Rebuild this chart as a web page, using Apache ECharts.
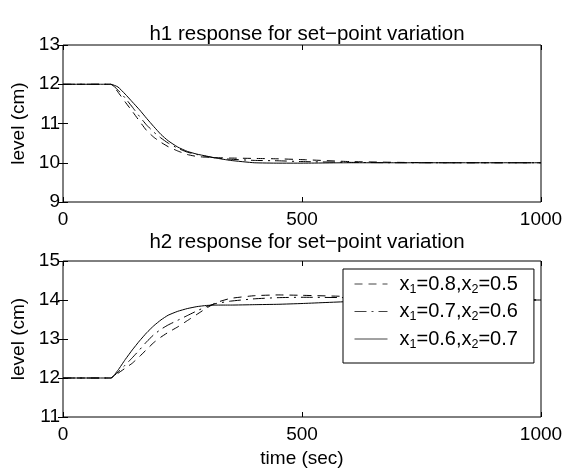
<!DOCTYPE html>
<html><head><meta charset="utf-8">
<script src="https://cdn.jsdelivr.net/npm/echarts@6/dist/echarts.min.js"></script>
<style>html,body{margin:0;padding:0;background:#fff}#c{width:567px;height:469px}</style>
</head><body><div id="c"></div>
<script>
// time grid (sec)
const time = [0, 100, 115, 130, 145, 160, 175, 190, 205, 220, 240, 260, 280, 300, 320, 350, 400, 450, 500, 600, 700, 800, 900, 1000];
// h1 response (cm)
const h1A = [12, 12, 11.80, 11.55, 11.31, 11.06, 10.82, 10.65, 10.52, 10.41, 10.30, 10.21, 10.16, 10.14, 10.13, 10.12, 10.11, 10.10, 10.08, 10.03, 10.01, 10.00, 10.00, 10.00];
const h1B = [12, 12, 11.85, 11.65, 11.42, 11.18, 10.96, 10.78, 10.63, 10.50, 10.37, 10.27, 10.21, 10.16, 10.12, 10.09, 10.06, 10.05, 10.03, 10.01, 10.00, 10.00, 10.00, 10.00];
const h1C = [12, 12, 11.93, 11.75, 11.55, 11.35, 11.13, 10.92, 10.72, 10.56, 10.40, 10.29, 10.22, 10.17, 10.12, 10.06, 10.00, 9.99, 9.99, 10.00, 10.00, 10.00, 10.00, 10.00];
// h2 response (cm)
const h2A = [12, 12, 12.12, 12.25, 12.38, 12.55, 12.73, 12.91, 13.05, 13.17, 13.31, 13.47, 13.63, 13.79, 13.93, 14.04, 14.11, 14.13, 14.12, 14.09, 14.06, 14.03, 14.01, 14.00];
const h2B = [12, 12, 12.15, 12.33, 12.52, 12.72, 12.93, 13.11, 13.25, 13.36, 13.48, 13.60, 13.72, 13.83, 13.91, 13.97, 14.03, 14.06, 14.07, 14.06, 14.04, 14.02, 14.01, 14.00];
const h2C = [12, 12, 12.20, 12.47, 12.72, 12.95, 13.16, 13.34, 13.49, 13.61, 13.71, 13.78, 13.83, 13.86, 13.87, 13.87, 13.88, 13.89, 13.91, 13.96, 13.98, 13.99, 14.00, 14.00];
const seriesNames = ['x1=0.8,x2=0.5', 'x1=0.7,x2=0.6', 'x1=0.6,x2=0.7'];
const xTicks = [0, 500, 1000];
const titles = ['h1 response for set\u2212point variation', 'h2 response for set\u2212point variation'];

const FONT = 'Liberation Sans, Arial, Helvetica, sans-serif';
const FS = 19;
const dashStyles = [[8, 6], [12, 5, 2, 5], 'solid'];
const pairs = arr => time.map((t, i) => [t, arr[i]]);

function xAx(grid, pos, labels) {
  return {
    type: 'value', gridIndex: grid, position: pos, min: xTicks[0], max: xTicks[2], interval: 500,
    axisLine: {show: false},
    axisTick: {show: true, inside: true, length: 5, lineStyle: {color: '#000'}},
    axisLabel: {show: labels, color: '#000', fontSize: FS, fontFamily: FONT, margin: 8, formatter: v => String(v)},
    splitLine: {show: false},
    name: (labels && grid === 1) ? 'time (sec)' : '',
    nameLocation: 'middle', nameGap: 32,
    nameTextStyle: {color: '#000', fontSize: FS, fontFamily: FONT}
  };
}
function yAx(grid, pos, labels, min, max) {
  return {
    type: 'value', gridIndex: grid, position: pos, min: min, max: max, interval: 1,
    axisLine: {show: false},
    axisTick: {show: true, inside: true, length: 5, lineStyle: {color: '#000'}},
    axisLabel: {show: labels, color: '#000', fontSize: FS, fontFamily: FONT, margin: 3},
    splitLine: {show: false},
    name: labels ? 'level (cm)' : '',
    nameLocation: 'middle', nameGap: 35,
    nameTextStyle: {color: '#000', fontSize: FS, fontFamily: FONT}
  };
}

const topData = [h1A, h1B, h1C];
const botData = [h2A, h2B, h2C];
const series = [];
[topData, botData].forEach((set, g) => {
  set.forEach((arr, k) => {
    series.push({
      type: 'line', name: seriesNames[k], xAxisIndex: g * 2, yAxisIndex: g * 2,
      data: pairs(arr), symbol: 'none', smooth: 0.15, silent: true,
      lineStyle: {color: '#000', width: 1, type: dashStyles[k]},
      itemStyle: {color: '#000'}
    });
  });
});

const chart = echarts.init(document.getElementById('c'), null, {renderer: 'canvas'});
chart.setOption({
  backgroundColor: '#fff',
  animation: false,
  title: titles.map((t, i) => ({
    text: t, left: 302, top: i === 0 ? 19 : 227, textAlign: 'center',
    textStyle: {color: '#000', fontSize: 20.5, fontWeight: 'normal', fontFamily: FONT}
  })),
  grid: [
    {left: 63, top: 45, width: 478, height: 157, show: true, borderColor: '#000', borderWidth: 1, backgroundColor: 'transparent'},
    {left: 63, top: 261, width: 478, height: 157, show: true, borderColor: '#000', borderWidth: 1, backgroundColor: 'transparent'}
  ],
  xAxis: [xAx(0, 'bottom', true), xAx(0, 'top', false), xAx(1, 'bottom', true), xAx(1, 'top', false)],
  yAxis: [yAx(0, 'left', true, 9, 13), yAx(0, 'right', false, 9, 13), yAx(1, 'left', true, 11, 15), yAx(1, 'right', false, 11, 15)],
  legend: {
    data: seriesNames, orient: 'vertical', left: 343, top: 269,
    padding: [3, 16, 12, 11], itemGap: 3.5, itemWidth: 33, itemHeight: 14,
    backgroundColor: '#fff', borderColor: '#000', borderWidth: 1,
    selectedMode: false,
    itemStyle: {opacity: 0, borderWidth: 0},
    lineStyle: {width: 1, color: '#444'},
    formatter: n => n.replace(/x(\d)/g, 'x{s|$1}'),
    textStyle: {color: '#000', fontSize: 20, fontFamily: FONT, lineHeight: 24, padding: [0, 0, 0, 7],
      rich: {s: {fontSize: 12.5, lineHeight: 12, verticalAlign: 'bottom', fontFamily: FONT, color: '#000'}}}
  },
  series: series
});
</script></body></html>
